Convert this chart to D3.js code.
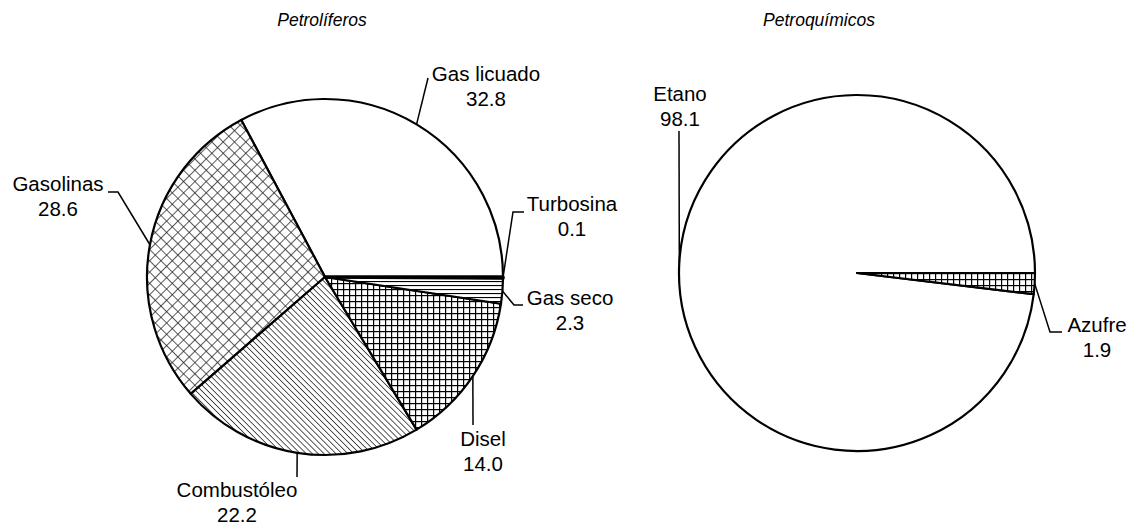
<!DOCTYPE html>
<html><head><meta charset="utf-8">
<script src="https://cdn.jsdelivr.net/npm/d3@7"></script>
<style>body{margin:0;background:#fff}svg{display:block}text{font-family:"Liberation Sans",Arial,sans-serif;fill:#000}</style>
</head><body>
<svg id="c" width="1137" height="531"></svg>
<script>
// ---- data ----
const petroliferosCats = ["Gas licuado","Gasolinas","Combustóleo","Disel","Gas seco","Turbosina"];
const petroliferosVals = [32.8, 28.6, 22.2, 14.0, 2.3, 0.1];
const petroquimicosCats = ["Etano","Azufre"];
const petroquimicosVals = [98.1, 1.9];
const titles = ["Petrolíferos","Petroquímicos"];

// ---- layout (not data) ----
const fills1 = ["#fff","url(#pCross)","url(#pDiag)","url(#pGrid)","url(#pHoriz)","#000"];
const fills2 = ["#fff","url(#pGrid)"];
const lab1 = [
  {x:486,y:81, pts:[[428,78]]},
  {x:58,y:191, pts:[[118,192],[108,192]]},
  {x:237,y:497, pts:[[297,477]]},
  {x:483,y:446, pts:[[473,425]]},
  {x:570,y:305, pts:[[514,305],[523,305]]},
  {x:572,y:211, pts:[[513,212],[524,212]]}
];
const lab2 = [
  {x:680,y:101, pts:[[679,131]]},
  {x:1097,y:332, pts:[[1050,332],[1062,332]]}
];
const lineGap = 24.5;

const svg = d3.select("#c");
const defs = svg.append("defs");
function pat(id, size, draw, rot){
  const p = defs.append("pattern").attr("id",id).attr("patternUnits","userSpaceOnUse")
    .attr("width",size).attr("height",size);
  if(rot) p.attr("patternTransform","rotate("+rot+")");
  p.append("rect").attr("width",size).attr("height",size).attr("fill","#fff");
  draw(p,size);
}
pat("pCross",8,(p,s)=>{
  p.append("line").attr("x1",0).attr("y1",0).attr("x2",0).attr("y2",s).attr("stroke","#222").attr("stroke-width",1.5);
  p.append("line").attr("x1",0).attr("y1",0).attr("x2",s).attr("y2",0).attr("stroke","#222").attr("stroke-width",1.5);
},45);
pat("pDiag",4.2,(p,s)=>{
  p.append("line").attr("x1",0).attr("y1",0).attr("x2",0).attr("y2",s).attr("stroke","#111").attr("stroke-width",1.4);
},-45);
pat("pGrid",6,(p,s)=>{
  p.append("line").attr("x1",0.5).attr("y1",0).attr("x2",0.5).attr("y2",s).attr("stroke","#000").attr("stroke-width",1.4);
  p.append("line").attr("x1",0).attr("y1",0.5).attr("x2",s).attr("y2",0.5).attr("stroke","#000").attr("stroke-width",1.4);
});
pat("pHoriz",4,(p,s)=>{
  p.append("line").attr("x1",0).attr("y1",0.5).attr("x2",s).attr("y2",0.5).attr("stroke","#000").attr("stroke-width",1.2);
});

function drawPie(cx, cy, r, cats, vals, fills, labs, title, tx){
  const pie = d3.pie().sort(null).startAngle(Math.PI/2).endAngle(Math.PI/2 - 2*Math.PI);
  const arcs = pie(vals);
  const arc = d3.arc().innerRadius(0).outerRadius(r);
  const g = svg.append("g").attr("transform",`translate(${cx},${cy})`);
  g.selectAll("path").data(arcs).join("path")
    .attr("d",arc).attr("fill",(d,i)=>fills[i])
    .attr("stroke","#000").attr("stroke-width",(d,i)=>fills[i]==="#000"?3.5:2.2).attr("stroke-linejoin","round");
  arcs.forEach((d,i)=>{
    const a = (d.startAngle + d.endAngle)/2;
    const px = cx + r*Math.sin(a), py = cy - r*Math.cos(a);
    const pts = [[px,py]].concat(labs[i].pts);
    svg.append("path").attr("d",d3.line()(pts)).attr("fill","none")
      .attr("stroke","#000").attr("stroke-width",1.5);
    const t = svg.append("text").attr("text-anchor","middle").attr("font-size",20.5);
    t.append("tspan").attr("x",labs[i].x).attr("y",labs[i].y).text(cats[i]);
    t.append("tspan").attr("x",labs[i].x).attr("y",labs[i].y+lineGap).text(vals[i].toFixed(1));
  });
  svg.append("text").attr("x",tx).attr("y",26).attr("text-anchor","middle")
    .attr("font-size",17.5).attr("font-style","italic").text(title);
}
drawPie(325,277,178,petroliferosCats,petroliferosVals,fills1,lab1,titles[0],322);
drawPie(857,273,178,petroquimicosCats,petroquimicosVals,fills2,lab2,titles[1],819);
</script>
</body></html>
